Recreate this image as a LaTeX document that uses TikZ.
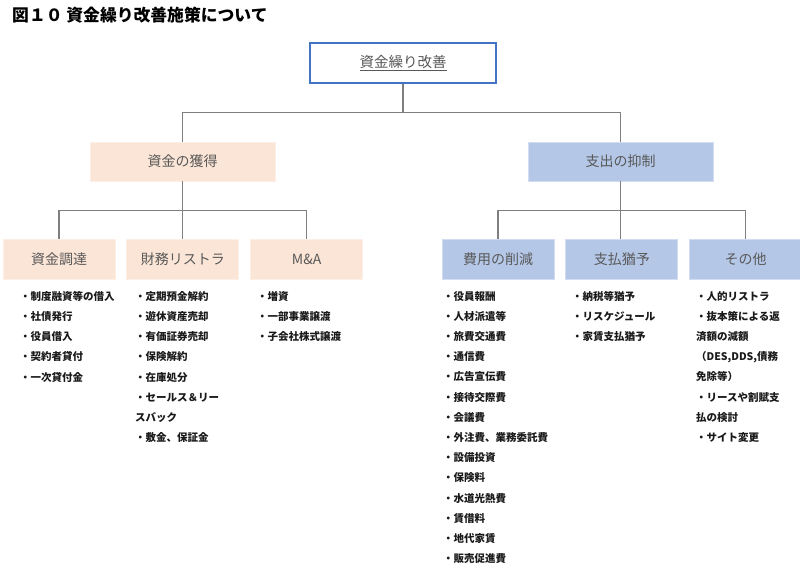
\documentclass[tikz,border=0pt]{standalone}
\usepackage{fontspec}
\setmainfont{Noto Sans CJK JP}
\usepackage{xcolor}
\usepackage{tikz}
\usetikzlibrary{positioning,calc}
\definecolor{RootBlue}{HTML}{4472C4}
\definecolor{Peach}{HTML}{FBE5D6}
\definecolor{PaleBlue}{HTML}{B4C7E7}
\definecolor{LineGray}{HTML}{7F7F7F}
\definecolor{LabelGray}{HTML}{595959}
\definecolor{ItemBlack}{HTML}{1A1A1A}

\begin{document}
\begin{tikzpicture}[
    x=1pt, y=-1pt,
    rootbox/.style={draw=RootBlue, line width=1.2pt, fill=white, minimum width=186pt, minimum height=40pt, text=LabelGray, font=\fontsize{14.5}{16}\selectfont},
    midbox/.style={draw=#1!60!white, line width=0.8pt, fill=#1, minimum width=185pt, minimum height=39pt, text=LabelGray, font=\fontsize{14}{16}\selectfont},
    subbox/.style={draw=#1!60!white, line width=0.8pt, fill=#1, minimum width=112pt, minimum height=40pt, text=LabelGray, font=\fontsize{14}{16}\selectfont},
    items/.style={anchor=north west, inner sep=0pt, align=left, text=ItemBlack, font=\fontsize{10.5}{20.2}\selectfont\bfseries},
    conn/.style={draw=LineGray, line width=1.3pt}
]
\useasboundingbox (0,0) rectangle (800,572);
\node[anchor=west, inner sep=0pt, font=\fontsize{16.8}{18}\selectfont\bfseries] (title) at (12,15) {図１０ 資金繰り改善施策について};

\node[rootbox] (root) at (403,63) {\underline{資金繰り改善}};
\node[midbox=Peach] (gain) at (182.5,161.5) {資金の獲得};
\node[midbox=PaleBlue] (cut) at (620.5,161.5) {支出の抑制};

\node[subbox=Peach] (fund) at (59,259.5) {資金調達};
\node[subbox=Peach, right=11pt of fund] (restr) {財務リストラ};
\node[subbox=Peach, right=11pt of restr] (ma) {M\&A};
\node[subbox=PaleBlue] (cost) at (498,259.5) {費用の削減};
\node[subbox=PaleBlue, right=11pt of cost] (defer) {支払猶予};
\node[subbox=PaleBlue, right=11pt of defer] (other) {その他};

\coordinate (topbus) at ($(root.south)+(0,29)$);
\coordinate (gainbus) at ($(gain.south)+(0,29)$);
\coordinate (cutbus) at ($(cut.south)+(0,29)$);
\draw[conn] (root.south) -- (topbus);
\draw[conn] (gain.north) |- (topbus) -| (cut.north);
\draw[conn] (gain.south) -- (gain.south |- restr.north);
\draw[conn] (fund.north) |- (gainbus) -| (ma.north);
\draw[conn] (cut.south) -- (cut.south |- defer.north);
\draw[conn] (cost.north) |- (cutbus) -| (other.north);

\node[items] (fund-list) at (20,291) {・制度融資等の借入\\・社債発行\\・役員借入\\・契約者貸付\\・一次貸付金};
\node[items] (restr-list) at (135,291) {・定期預金解約\\・遊休資産売却\\・有価証券売却\\・保険解約\\・在庫処分\\・セールス＆リー\\スバック\\・敷金、保証金};
\node[items] (ma-list) at (257,291) {・増資\\・一部事業譲渡\\・子会社株式譲渡};
\node[items] (cost-list) at (443,291) {・役員報酬\\・人材派遣等\\・旅費交通費\\・通信費\\・広告宣伝費\\・接待交際費\\・会議費\\・外注費、業務委託費\\・設備投資\\・保険料\\・水道光熱費\\・賃借料\\・地代家賃\\・販売促進費};
\node[items] (defer-list) at (572,291) {・納税等猶予\\・リスケジュール\\・家賃支払猶予};
\node[items] (other-list) at (696,291) {・人的リストラ\\・抜本策による返\\済額の減額\\（DES,DDS,債務\\免除等）\\・リースや割賦支\\払の検討\\・サイト変更};
\end{tikzpicture}
\end{document}
